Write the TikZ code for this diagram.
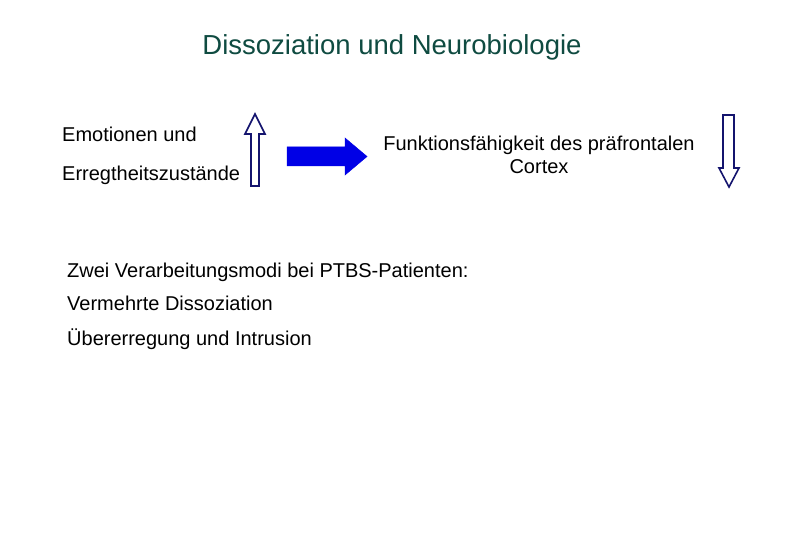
\documentclass[tikz,border=0pt]{standalone}
\usepackage{fontspec}
\setmainfont{Liberation Sans}
\definecolor{titlegreen}{RGB}{15,75,65}
\definecolor{navy}{RGB}{20,20,110}
\definecolor{arrowblue}{RGB}{0,0,230}
\begin{document}
\begin{tikzpicture}[x=1pt,y=-1pt,
  txt/.style={inner sep=0pt,anchor=base west,font=\fontsize{20}{23}\selectfont},
  hollow/.style={draw=navy,line width=1.6pt,fill=white,line join=miter},
  solidarrow/.style={fill=arrowblue,draw=arrowblue,line width=0.5pt}]
\useasboundingbox (0,0) rectangle (810,540);
\fill[white] (0,0) rectangle (810,540);
\node[inner sep=0pt,anchor=base,font=\fontsize{27.5}{30}\selectfont,text=titlegreen] (title) at (392,55) {Dissoziation und Neurobiologie};
\node[txt] (emo) at (62,142) {Emotionen und};
\node[txt] (erreg) at (62,180) {Erregtheitszustände};
\node[inner sep=0pt,anchor=base,align=center,font=\fontsize{20}{23}\selectfont] (funk) at (539,173) {Funktionsfähigkeit des präfrontalen\\Cortex};
\node[txt] (zwei) at (67,277) {Zwei Verarbeitungsmodi bei PTBS-Patienten:};
\node[txt] (verm) at (67,310) {Vermehrte Dissoziation};
\node[txt] (uber) at (67,345) {Übererregung und Intrusion};
% up arrow
\draw[hollow] (251,186) -- (251,134) -- (245,134) -- (255,114) -- (265,134) -- (259,134) -- (259,186) -- cycle;
% right arrow
\draw[solidarrow] (287,147) -- (345,147) -- (345,138) -- (367,156.5) -- (345,175) -- (345,166) -- (287,166) -- cycle;
% down arrow
\draw[hollow] (723,115) -- (734,115) -- (734,168) -- (739,168) -- (729,187) -- (719,168) -- (723,168) -- cycle;
\end{tikzpicture}
\end{document}
